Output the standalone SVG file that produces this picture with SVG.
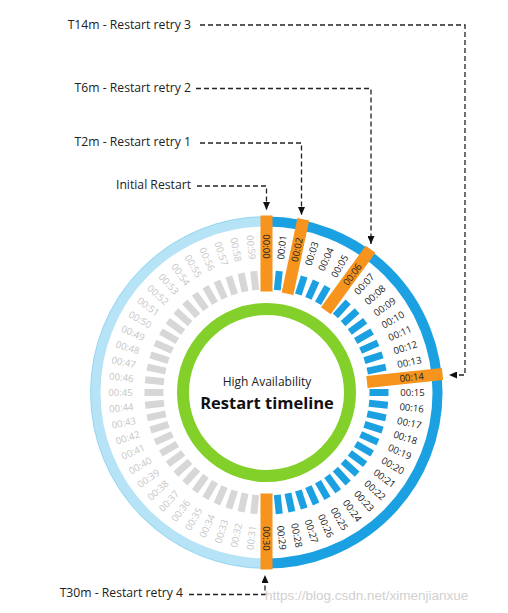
<svg xmlns="http://www.w3.org/2000/svg" xmlns:xlink="http://www.w3.org/1999/xlink" width="508" height="613" viewBox="0 0 508 613">
<style>
.lbl{font-family:"Open Sans","DejaVu Sans",sans-serif;font-size:9.6px;text-anchor:middle;dominant-baseline:central}
.rt{fill:#222}
.lf{fill:#c6c6c6}
.call{font-family:"Open Sans","DejaVu Sans",sans-serif;font-size:12.2px;fill:#222;text-anchor:end}
.conn{fill:none;stroke:#222;stroke-width:1.3;stroke-dasharray:5 3}
</style>
<defs>
<marker id="arr" markerUnits="userSpaceOnUse" markerWidth="8" markerHeight="7" viewBox="0 0 8 7" refX="8" refY="3.5" orient="auto">
<path d="M0,0 L8,3.5 L0,7 z" fill="#111"/>
</marker>
<rect id="tb" x="-3.5" y="-122" width="7" height="19" fill="#1ba1e2"/>
<rect id="tg" x="-3.5" y="-122" width="7" height="19" fill="#d7d7d7"/>
<rect id="ob" x="-6" y="-177" width="12" height="76" fill="#f7941e"/>
</defs>
<rect width="508" height="613" fill="#fff"/>
<g id="clock" transform="translate(266.5 392.5)">
<g id="outer-ring">
<path d="M0,-171 A171,171 0 0 1 0,171" fill="none" stroke="#1ba1e2" stroke-width="10"/>
<path d="M0,171 A171,171 0 0 1 0,-171" fill="none" stroke="#b6e3f6" stroke-width="10"/>
<path d="M0,176 A176,176 0 0 1 0,-176" fill="none" stroke="#86d0ef" stroke-width="0.8"/>
</g>
<circle id="inner-ring" r="83.5" fill="none" stroke="#84d02a" stroke-width="12"/>
<g id="ticks">
<use href="#tb" transform="rotate(6)"/>
<use href="#tb" transform="rotate(18)"/>
<use href="#tb" transform="rotate(24)"/>
<use href="#tb" transform="rotate(30)"/>
<use href="#tb" transform="rotate(42)"/>
<use href="#tb" transform="rotate(48)"/>
<use href="#tb" transform="rotate(54)"/>
<use href="#tb" transform="rotate(60)"/>
<use href="#tb" transform="rotate(66)"/>
<use href="#tb" transform="rotate(72)"/>
<use href="#tb" transform="rotate(78)"/>
<use href="#tb" transform="rotate(90)"/>
<use href="#tb" transform="rotate(96)"/>
<use href="#tb" transform="rotate(102)"/>
<use href="#tb" transform="rotate(108)"/>
<use href="#tb" transform="rotate(114)"/>
<use href="#tb" transform="rotate(120)"/>
<use href="#tb" transform="rotate(126)"/>
<use href="#tb" transform="rotate(132)"/>
<use href="#tb" transform="rotate(138)"/>
<use href="#tb" transform="rotate(144)"/>
<use href="#tb" transform="rotate(150)"/>
<use href="#tb" transform="rotate(156)"/>
<use href="#tb" transform="rotate(162)"/>
<use href="#tb" transform="rotate(168)"/>
<use href="#tb" transform="rotate(174)"/>
<use href="#tg" transform="rotate(186)"/>
<use href="#tg" transform="rotate(192)"/>
<use href="#tg" transform="rotate(198)"/>
<use href="#tg" transform="rotate(204)"/>
<use href="#tg" transform="rotate(210)"/>
<use href="#tg" transform="rotate(216)"/>
<use href="#tg" transform="rotate(222)"/>
<use href="#tg" transform="rotate(228)"/>
<use href="#tg" transform="rotate(234)"/>
<use href="#tg" transform="rotate(240)"/>
<use href="#tg" transform="rotate(246)"/>
<use href="#tg" transform="rotate(252)"/>
<use href="#tg" transform="rotate(258)"/>
<use href="#tg" transform="rotate(264)"/>
<use href="#tg" transform="rotate(270)"/>
<use href="#tg" transform="rotate(276)"/>
<use href="#tg" transform="rotate(282)"/>
<use href="#tg" transform="rotate(288)"/>
<use href="#tg" transform="rotate(294)"/>
<use href="#tg" transform="rotate(300)"/>
<use href="#tg" transform="rotate(306)"/>
<use href="#tg" transform="rotate(312)"/>
<use href="#tg" transform="rotate(318)"/>
<use href="#tg" transform="rotate(324)"/>
<use href="#tg" transform="rotate(330)"/>
<use href="#tg" transform="rotate(336)"/>
<use href="#tg" transform="rotate(342)"/>
<use href="#tg" transform="rotate(348)"/>
<use href="#tg" transform="rotate(354)"/>
</g>
<g id="restart-marks">
<use href="#ob" transform="rotate(0)"/>
<use href="#ob" transform="rotate(12)"/>
<use href="#ob" transform="rotate(36)"/>
<use href="#ob" transform="rotate(84)"/>
<use href="#ob" transform="rotate(180)"/>
</g>
<g id="minute-labels" class="lbl">
<text class="rt" x="0" y="-146" transform="rotate(0) rotate(90 0 -146)">00:00</text>
<text class="rt" x="0" y="-146" transform="rotate(6) rotate(-90 0 -146)">00:01</text>
<text class="rt" x="0" y="-146" transform="rotate(12) rotate(-90 0 -146)">00:02</text>
<text class="rt" x="0" y="-146" transform="rotate(18) rotate(-90 0 -146)">00:03</text>
<text class="rt" x="0" y="-146" transform="rotate(24) rotate(-90 0 -146)">00:04</text>
<text class="rt" x="0" y="-146" transform="rotate(30) rotate(-90 0 -146)">00:05</text>
<text class="rt" x="0" y="-146" transform="rotate(36) rotate(-90 0 -146)">00:06</text>
<text class="rt" x="0" y="-146" transform="rotate(42) rotate(-90 0 -146)">00:07</text>
<text class="rt" x="0" y="-146" transform="rotate(48) rotate(-90 0 -146)">00:08</text>
<text class="rt" x="0" y="-146" transform="rotate(54) rotate(-90 0 -146)">00:09</text>
<text class="rt" x="0" y="-146" transform="rotate(60) rotate(-90 0 -146)">00:10</text>
<text class="rt" x="0" y="-146" transform="rotate(66) rotate(-90 0 -146)">00:11</text>
<text class="rt" x="0" y="-146" transform="rotate(72) rotate(-90 0 -146)">00:12</text>
<text class="rt" x="0" y="-146" transform="rotate(78) rotate(-90 0 -146)">00:13</text>
<text class="rt" x="0" y="-146" transform="rotate(84) rotate(-90 0 -146)">00:14</text>
<text class="rt" x="0" y="-146" transform="rotate(90) rotate(-90 0 -146)">00:15</text>
<text class="rt" x="0" y="-146" transform="rotate(96) rotate(-90 0 -146)">00:16</text>
<text class="rt" x="0" y="-146" transform="rotate(102) rotate(-90 0 -146)">00:17</text>
<text class="rt" x="0" y="-146" transform="rotate(108) rotate(-90 0 -146)">00:18</text>
<text class="rt" x="0" y="-146" transform="rotate(114) rotate(-90 0 -146)">00:19</text>
<text class="rt" x="0" y="-146" transform="rotate(120) rotate(-90 0 -146)">00:20</text>
<text class="rt" x="0" y="-146" transform="rotate(126) rotate(-90 0 -146)">00:21</text>
<text class="rt" x="0" y="-146" transform="rotate(132) rotate(-90 0 -146)">00:22</text>
<text class="rt" x="0" y="-146" transform="rotate(138) rotate(-90 0 -146)">00:23</text>
<text class="rt" x="0" y="-146" transform="rotate(144) rotate(-90 0 -146)">00:24</text>
<text class="rt" x="0" y="-146" transform="rotate(150) rotate(-90 0 -146)">00:25</text>
<text class="rt" x="0" y="-146" transform="rotate(156) rotate(-90 0 -146)">00:26</text>
<text class="rt" x="0" y="-146" transform="rotate(162) rotate(-90 0 -146)">00:27</text>
<text class="rt" x="0" y="-146" transform="rotate(168) rotate(-90 0 -146)">00:28</text>
<text class="rt" x="0" y="-146" transform="rotate(174) rotate(-90 0 -146)">00:29</text>
<text class="rt" x="0" y="-146" transform="rotate(180) rotate(-90 0 -146)">00:30</text>
<text class="lf" x="0" y="-146" transform="rotate(186) rotate(90 0 -146)">00:31</text>
<text class="lf" x="0" y="-146" transform="rotate(192) rotate(90 0 -146)">00:32</text>
<text class="lf" x="0" y="-146" transform="rotate(198) rotate(90 0 -146)">00:33</text>
<text class="lf" x="0" y="-146" transform="rotate(204) rotate(90 0 -146)">00:34</text>
<text class="lf" x="0" y="-146" transform="rotate(210) rotate(90 0 -146)">00:35</text>
<text class="lf" x="0" y="-146" transform="rotate(216) rotate(90 0 -146)">00:36</text>
<text class="lf" x="0" y="-146" transform="rotate(222) rotate(90 0 -146)">00:37</text>
<text class="lf" x="0" y="-146" transform="rotate(228) rotate(90 0 -146)">00:38</text>
<text class="lf" x="0" y="-146" transform="rotate(234) rotate(90 0 -146)">00:39</text>
<text class="lf" x="0" y="-146" transform="rotate(240) rotate(90 0 -146)">00:40</text>
<text class="lf" x="0" y="-146" transform="rotate(246) rotate(90 0 -146)">00:41</text>
<text class="lf" x="0" y="-146" transform="rotate(252) rotate(90 0 -146)">00:42</text>
<text class="lf" x="0" y="-146" transform="rotate(258) rotate(90 0 -146)">00:43</text>
<text class="lf" x="0" y="-146" transform="rotate(264) rotate(90 0 -146)">00:44</text>
<text class="lf" x="0" y="-146" transform="rotate(270) rotate(90 0 -146)">00:45</text>
<text class="lf" x="0" y="-146" transform="rotate(276) rotate(90 0 -146)">00:46</text>
<text class="lf" x="0" y="-146" transform="rotate(282) rotate(90 0 -146)">00:47</text>
<text class="lf" x="0" y="-146" transform="rotate(288) rotate(90 0 -146)">00:48</text>
<text class="lf" x="0" y="-146" transform="rotate(294) rotate(90 0 -146)">00:49</text>
<text class="lf" x="0" y="-146" transform="rotate(300) rotate(90 0 -146)">00:50</text>
<text class="lf" x="0" y="-146" transform="rotate(306) rotate(90 0 -146)">00:51</text>
<text class="lf" x="0" y="-146" transform="rotate(312) rotate(90 0 -146)">00:52</text>
<text class="lf" x="0" y="-146" transform="rotate(318) rotate(90 0 -146)">00:53</text>
<text class="lf" x="0" y="-146" transform="rotate(324) rotate(90 0 -146)">00:54</text>
<text class="lf" x="0" y="-146" transform="rotate(330) rotate(90 0 -146)">00:55</text>
<text class="lf" x="0" y="-146" transform="rotate(336) rotate(90 0 -146)">00:56</text>
<text class="lf" x="0" y="-146" transform="rotate(342) rotate(90 0 -146)">00:57</text>
<text class="lf" x="0" y="-146" transform="rotate(348) rotate(90 0 -146)">00:58</text>
<text class="lf" x="0" y="-146" transform="rotate(354) rotate(90 0 -146)">00:59</text>
</g>
</g>
<g id="title">
<text x="267" y="386" font-family="'Open Sans','DejaVu Sans',sans-serif" font-size="12" fill="#222" text-anchor="middle">High Availability</text>
<text x="267" y="409" font-family="'Open Sans','DejaVu Sans',sans-serif" font-size="16.5" font-weight="bold" fill="#111" text-anchor="middle">Restart timeline</text>
</g>
<g id="label-t14"><text class="call" x="191" y="29">T14m - Restart retry 3</text></g>
<g id="label-t6"><text class="call" x="191" y="92">T6m - Restart retry 2</text></g>
<g id="label-t2"><text class="call" x="191" y="146">T2m - Restart retry 1</text></g>
<g id="label-initial"><text class="call" x="191" y="189">Initial Restart</text></g>
<g id="label-t30"><text class="call" x="183" y="597">T30m - Restart retry 4</text></g>
<g id="connectors">
<path class="conn" d="M197,186 H266.5 V210" marker-end="url(#arr)"/>
<path class="conn" d="M200,143 H301.5 V215" marker-end="url(#arr)"/>
<path class="conn" d="M196,88.5 H371 V244" marker-end="url(#arr)"/>
<path class="conn" d="M200,25 H465 V375 H449" marker-end="url(#arr)"/>
<path class="conn" d="M189,594.5 H265 V575" marker-end="url(#arr)"/>
</g>
<text x="265" y="600" font-family="'Liberation Sans',Arial,sans-serif" font-size="13.5" fill="#c9c9c9" opacity="0.85">https://blog.csdn.net/ximenjianxue</text>
</svg>
